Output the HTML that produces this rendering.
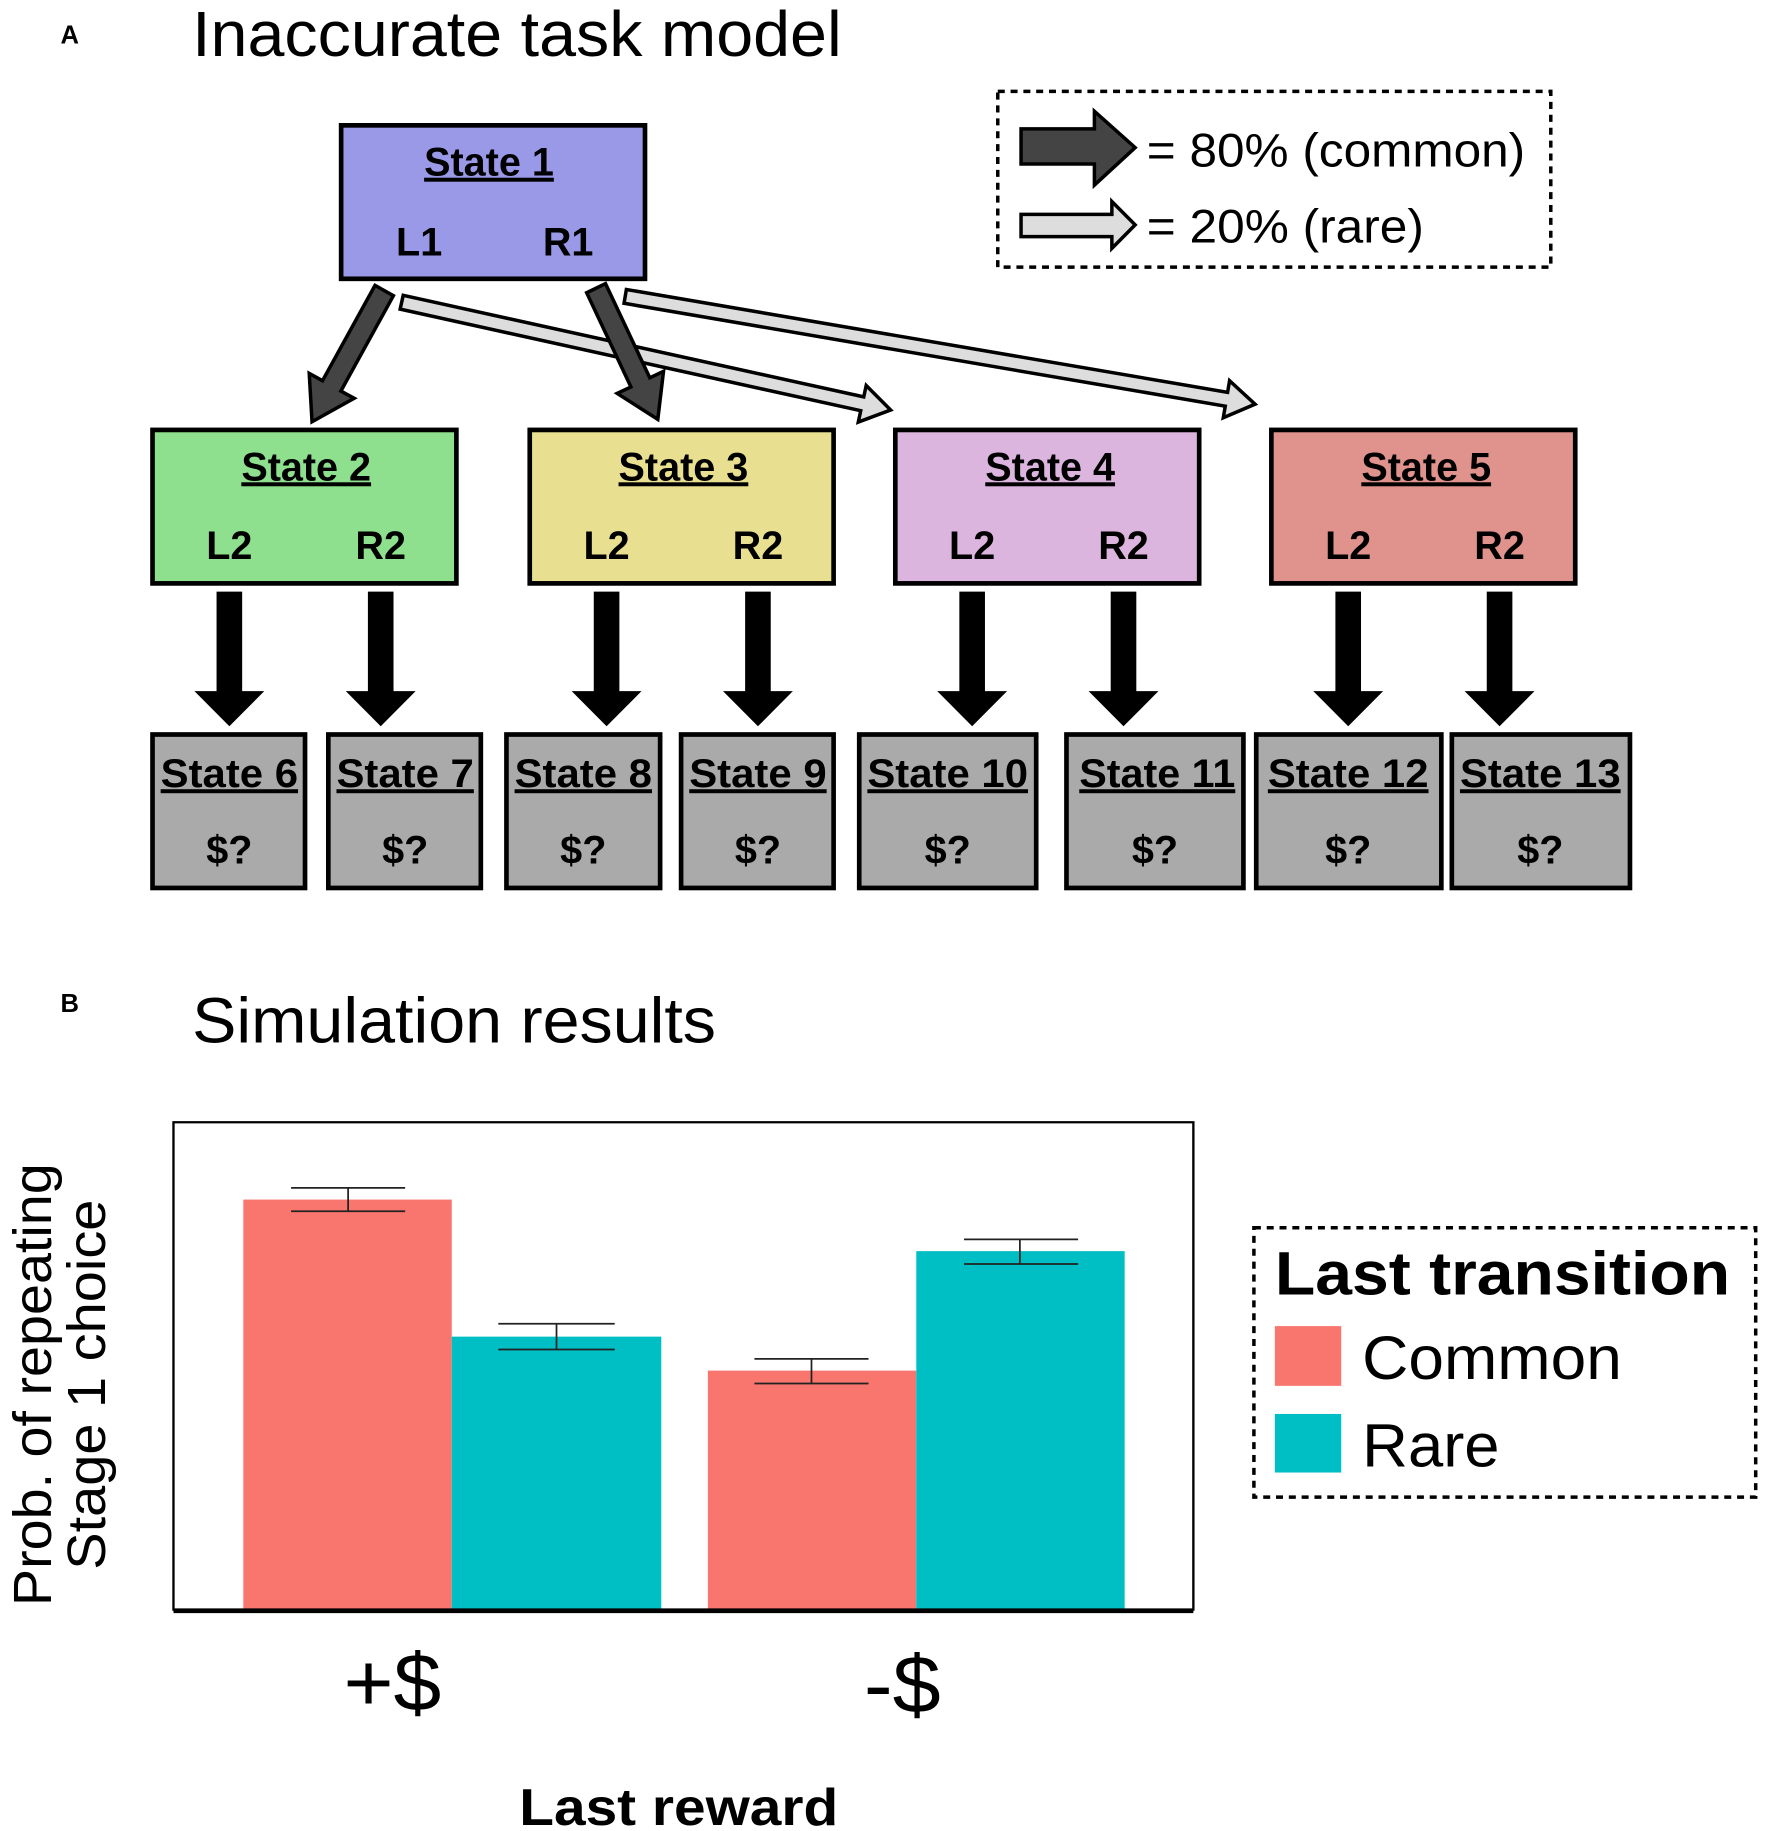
<!DOCTYPE html>
<html><head><meta charset="utf-8"><style>
html,body{margin:0;padding:0;background:#fff;}
svg{display:block;}
text{font-family:"Liberation Sans",Arial,sans-serif;}
</style></head><body>
<svg width="1772" height="1831" viewBox="0 0 1522 1563" preserveAspectRatio="none" xmlns="http://www.w3.org/2000/svg">
<text x="52" y="37" font-size="22" font-weight="bold">A</text>
<text x="165" y="48" font-size="55" textLength="558" lengthAdjust="spacingAndGlyphs">Inaccurate task model</text>

<rect x="857" y="78" width="475" height="150" fill="none" stroke="#000" stroke-width="3" stroke-dasharray="6,5"/>
<polygon points="877,110 940,110 940,95 975,126 940,158 940,140 877,140" fill="#444" stroke="#000" stroke-width="3"/>
<text x="985" y="142" font-size="40" textLength="325" lengthAdjust="spacingAndGlyphs">= 80% (common)</text>
<polygon points="877,183 955,183 955,172 975,192 955,212 955,202 877,202" fill="#ddd" stroke="#000" stroke-width="3"/>
<text x="985" y="207" font-size="40" textLength="238" lengthAdjust="spacingAndGlyphs">= 20% (rare)</text>

<g font-weight="bold" text-anchor="middle">
<rect x="293" y="107" width="261" height="131" fill="#9999e8" stroke="#000" stroke-width="4"/>
<text x="420" y="150" font-size="34" text-decoration="underline">State 1</text>
<text x="360" y="218" font-size="34">L1</text><text x="488" y="218" font-size="34">R1</text>

<rect x="131" y="367" width="261" height="131" fill="#8ee08e" stroke="#000" stroke-width="4"/>
<text x="263" y="410" font-size="34" text-decoration="underline">State 2</text>
<text x="197" y="477" font-size="34">L2</text><text x="327" y="477" font-size="34">R2</text>
<rect x="455" y="367" width="261" height="131" fill="#e8e090" stroke="#000" stroke-width="4"/>
<text x="587" y="410" font-size="34" text-decoration="underline">State 3</text>
<text x="521" y="477" font-size="34">L2</text><text x="651" y="477" font-size="34">R2</text>
<rect x="769" y="367" width="261" height="131" fill="#dbb5dd" stroke="#000" stroke-width="4"/>
<text x="902" y="410" font-size="34" text-decoration="underline">State 4</text>
<text x="835" y="477" font-size="34">L2</text><text x="965" y="477" font-size="34">R2</text>
<rect x="1092" y="367" width="261" height="131" fill="#e0928c" stroke="#000" stroke-width="4"/>
<text x="1225" y="410" font-size="34" text-decoration="underline">State 5</text>
<text x="1158" y="477" font-size="34">L2</text><text x="1288" y="477" font-size="34">R2</text>
</g>

<polygon points="343.7,263.9 739.3,350.6 737.2,360.3 765,350 744.0,329.1 741.9,338.8 346.3,252.1" fill="#ddd" stroke="#000" stroke-width="3"/>
<polygon points="536.0,258.9 1052.4,346.7 1050.7,356.6 1078,345 1056.1,325.0 1054.4,334.9 538.0,247.1" fill="#ddd" stroke="#000" stroke-width="3"/>
<polygon points="337.9,252.4 292.8,333.8 304.2,340.0 268,360 265.6,318.8 277.0,325.0 322.1,243.6" fill="#444" stroke="#000" stroke-width="3"/>
<polygon points="520.1,242.1 558.1,322.5 569.9,317.0 565,358 530.1,335.8 541.9,330.3 503.9,249.9" fill="#444" stroke="#000" stroke-width="3"/>

<g fill="#000">
<polygon points="186,505 208,505 208,590 227,590 197,620 167,590 186,590"/>
<polygon points="316,505 338,505 338,590 357,590 327,620 297,590 316,590"/>
<polygon points="510,505 532,505 532,590 551,590 521,620 491,590 510,590"/>
<polygon points="640,505 662,505 662,590 681,590 651,620 621,590 640,590"/>
<polygon points="824,505 846,505 846,590 865,590 835,620 805,590 824,590"/>
<polygon points="954,505 976,505 976,590 995,590 965,620 935,590 954,590"/>
<polygon points="1147,505 1169,505 1169,590 1188,590 1158,620 1128,590 1147,590"/>
<polygon points="1277,505 1299,505 1299,590 1318,590 1288,620 1258,590 1277,590"/>
</g>

<g fill="#aaa" stroke="#000" stroke-width="4">
<rect x="131" y="627" width="131" height="131"/>
<rect x="282" y="627" width="131" height="131"/>
<rect x="435" y="627" width="132" height="131"/>
<rect x="585" y="627" width="131" height="131"/>
<rect x="738" y="627" width="152" height="131"/>
<rect x="916" y="627" width="152" height="131"/>
<rect x="1079" y="627" width="159" height="131"/>
<rect x="1247" y="627" width="153" height="131"/>
</g>
<g font-weight="bold" text-anchor="middle" font-size="34">
<text x="197" y="672" text-decoration="underline" textLength="118" lengthAdjust="spacingAndGlyphs">State 6</text><text x="197" y="737">$?</text>
<text x="348" y="672" text-decoration="underline" textLength="118" lengthAdjust="spacingAndGlyphs">State 7</text><text x="348" y="737">$?</text>
<text x="501" y="672" text-decoration="underline" textLength="118" lengthAdjust="spacingAndGlyphs">State 8</text><text x="501" y="737">$?</text>
<text x="651" y="672" text-decoration="underline" textLength="118" lengthAdjust="spacingAndGlyphs">State 9</text><text x="651" y="737">$?</text>
<text x="814" y="672" text-decoration="underline" textLength="138" lengthAdjust="spacingAndGlyphs">State 10</text><text x="814" y="737">$?</text>
<text x="994" y="672" text-decoration="underline" textLength="134" lengthAdjust="spacingAndGlyphs">State 11</text><text x="992" y="737">$?</text>
<text x="1158" y="672" text-decoration="underline" textLength="138" lengthAdjust="spacingAndGlyphs">State 12</text><text x="1158" y="737">$?</text>
<text x="1323" y="672" text-decoration="underline" textLength="138" lengthAdjust="spacingAndGlyphs">State 13</text><text x="1323" y="737">$?</text>
</g>

<text x="52" y="864" font-size="22" font-weight="bold">B</text>
<text x="165" y="890" font-size="55" textLength="450" lengthAdjust="spacingAndGlyphs">Simulation results</text>

<rect x="209" y="1024" width="179" height="350" fill="#f8766d"/>
<rect x="388" y="1141" width="180" height="233" fill="#00bfc4"/>
<rect x="608" y="1170" width="179" height="204" fill="#f8766d"/>
<rect x="787" y="1068" width="179" height="306" fill="#00bfc4"/>
<g stroke="#222" stroke-width="1.5" fill="none">
<path d="M299,1014V1034M250,1014H348M250,1034H348"/>
<path d="M478,1130V1152M428,1130H528M428,1152H528"/>
<path d="M697,1160V1181M648,1160H746M648,1181H746"/>
<path d="M876,1058V1079M828,1058H926M828,1079H926"/>
</g>
<path d="M149,1375V958H1025V1375" fill="none" stroke="#000" stroke-width="2"/>
<path d="M149,1375H1025" stroke="#000" stroke-width="4"/>

<text transform="translate(44,1182) rotate(-90)" text-anchor="middle" font-size="46" textLength="378" lengthAdjust="spacingAndGlyphs">Prob. of repeating</text>
<text transform="translate(90,1182) rotate(-90)" text-anchor="middle" font-size="46" textLength="316" lengthAdjust="spacingAndGlyphs">Stage 1 choice</text>
<text x="337" y="1460" text-anchor="middle" font-size="70" textLength="84" lengthAdjust="spacingAndGlyphs">+$</text>
<text x="775" y="1462" text-anchor="middle" font-size="70" textLength="66" lengthAdjust="spacingAndGlyphs">-$</text>
<text x="583" y="1558" text-anchor="middle" font-size="44" font-weight="bold" textLength="274" lengthAdjust="spacingAndGlyphs">Last reward</text>

<rect x="1077" y="1048" width="431" height="230" fill="none" stroke="#000" stroke-width="3" stroke-dasharray="6,5"/>
<text x="1095" y="1105" font-size="52" font-weight="bold" textLength="391" lengthAdjust="spacingAndGlyphs">Last transition</text>
<rect x="1095" y="1132" width="57" height="51" fill="#f8766d"/>
<text x="1170" y="1177" font-size="52" textLength="223" lengthAdjust="spacingAndGlyphs">Common</text>
<rect x="1095" y="1207" width="57" height="50" fill="#00bfc4"/>
<text x="1170" y="1252" font-size="52" textLength="118" lengthAdjust="spacingAndGlyphs">Rare</text>
</svg>
</body></html>
